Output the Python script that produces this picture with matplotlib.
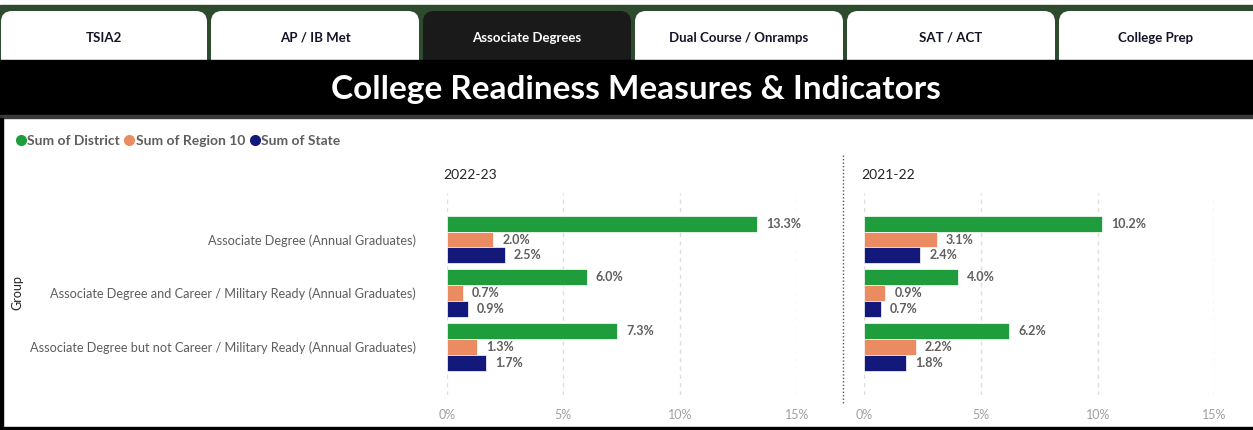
import matplotlib
matplotlib.use("Agg")
from matplotlib import pyplot as plt
from matplotlib.patches import FancyBboxPatch, Rectangle
from matplotlib.lines import Line2D
import numpy as np

# data
tabs = ["TSIA2", "AP / IB Met", "Associate Degrees", "Dual Course / Onramps", "SAT / ACT", "College Prep"]
active_tab = "Associate Degrees"
groups = ["Associate Degree (Annual Graduates)",
          "Associate Degree and Career / Military Ready (Annual Graduates)",
          "Associate Degree but not Career / Military Ready (Annual Graduates)"]
series = ["Sum of District", "Sum of Region 10", "Sum of State"]
colors = ["#1F9C3B", "#EB8B61", "#12197A"]
years = ["2022-23", "2021-22"]
district = {"2022-23": [13.3, 6.0, 7.3], "2021-22": [10.2, 4.0, 6.2]}
region10 = {"2022-23": [2.0, 0.7, 1.3], "2021-22": [3.1, 0.9, 2.2]}
state = {"2022-23": [2.5, 0.9, 1.7], "2021-22": [2.4, 0.7, 1.8]}
xticks = [0, 5, 10, 15]

plt.rcParams['font.family'] = ['Lato', 'DejaVu Sans']
W, H = 1253, 430
fig = plt.figure(figsize=(W / 100, H / 100), dpi=100)

# background / page furniture, in pixel coords
bg = fig.add_axes([0, 0, 1, 1])
bg.set_xlim(0, W)
bg.set_ylim(H, 0)
bg.axis("off")
bg.add_patch(Rectangle((0, 5), W, 60, color="#2E4A2F", zorder=0))
tab_x = [(1, 207), (211, 419), (423, 631), (635, 843), (847, 1055), (1059, 1263)]
for name, (x0, x1) in zip(tabs, tab_x):
    act = name == active_tab
    bg.add_patch(FancyBboxPatch((x0, 11), x1 - x0, 60,
                                boxstyle="round,pad=0,rounding_size=11",
                                fc="#1A1A1A" if act else "white", ec="none", zorder=1))
    bg.text((x0 + min(x1, W)) / 2, 38, name, ha="center", va="center", fontsize=9.5,
            fontweight="bold", color="white" if act else "#141428", zorder=2)
bg.add_patch(Rectangle((0, 60), W, 56, color="black", zorder=3))
bg.text(636, 89, "College Readiness Measures & Indicators", ha="center", va="center",
        fontsize=24, fontweight="bold", color="white", zorder=4)
bg.add_patch(Rectangle((0, 115), W, 3, color="#3a3a3a", zorder=3))
bg.add_patch(Rectangle((0, 118), 3, H, color="black", zorder=3))
bg.add_patch(Rectangle((0, 427), W, 3, color="black", zorder=3))
bg.plot([843, 843], [155, 405], ls=(0, (1, 1.5)), color="#555555", lw=1, zorder=3)

# legend
handles = [Line2D([], [], marker="o", ls="none", color=c, markersize=7) for c in colors]
fig.legend(handles, series, loc="center left", bbox_to_anchor=(4 / W, 1 - 141 / H),
           ncol=3, frameon=False, handlelength=0.6, handletextpad=0.15, columnspacing=0.4,
           labelcolor="#605E5C", prop={"weight": "bold", "size": 10})

fig.text(17 / W, 1 - 293 / H, "Group", rotation=90, ha="center", va="center",
         fontsize=9, color="#252423")

# chart panels
y = np.arange(len(groups))
bh = 0.297
ax_left = [446.7, 864.3]
px5 = 116.7
for i, yr in enumerate(years):
    ax = fig.add_axes([ax_left[i] / W, (H - 395) / H, 3 * px5 / W, 202 / H])
    vals = [district[yr], region10[yr], state[yr]]
    for k, (v, c) in enumerate(zip(vals, colors)):
        bars = ax.barh(y + (k - 1) * bh, v, height=bh, color=c, edgecolor="white",
                       linewidth=0.5, zorder=3)
        ax.bar_label(bars, labels=[f"{a:.1f}%" for a in v], padding=6.5,
                     fontsize=9, fontweight="bold", color="#605E5C")
    ax.set_xlim(0, 15)
    ax.set_ylim(2.90, -0.868)
    ax.set_xticks(xticks)
    ax.set_xticklabels([f"{t}%" for t in xticks], fontsize=9, color="#A0A0A0")
    ax.tick_params(axis="x", length=0, pad=10)
    ax.grid(axis="x", color="#DDDDDD", ls=(0, (3, 3)), lw=1, zorder=0)
    for s in ax.spines.values():
        s.set_visible(False)
    ax.set_yticks(y)
    if i == 0:
        ax.set_yticklabels(groups, fontsize=9.2, color="#605E5C")
        ax.tick_params(axis="y", length=0, pad=22)
    else:
        ax.set_yticklabels([])
        ax.tick_params(axis="y", length=0)
    ax.set_title(yr, loc="left", fontsize=10, color="#252423", pad=10, x=-0.01)
    ax.patch.set_alpha(0)

fig.savefig("out.png", dpi=100)
